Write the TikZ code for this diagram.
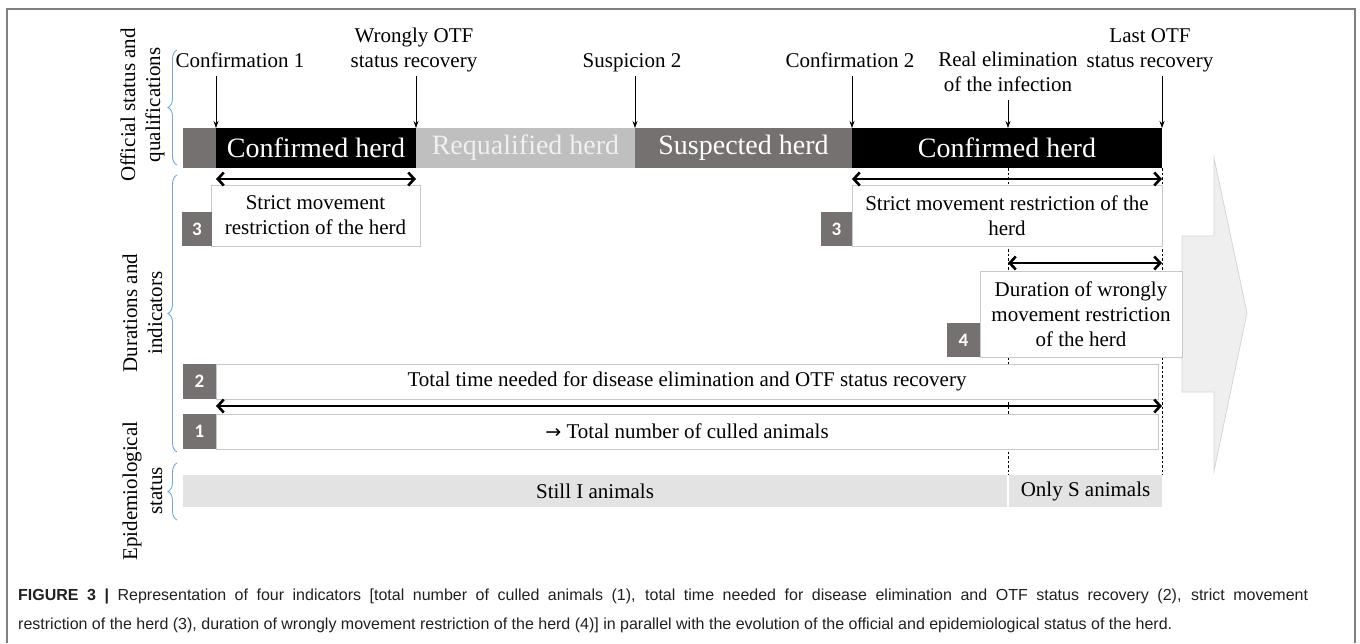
\documentclass[tikz,border=0pt]{standalone}
\usepackage{fontspec}
\setmainfont{Liberation Serif}
\newfontfamily\capfamily{Liberation Sans}
\newfontfamily\badgefamily{Carlito}
\newfontfamily\symfamily{DejaVu Sans}
\usetikzlibrary{arrows.meta,decorations.pathreplacing}
\definecolor{framegray}{HTML}{808080}
\definecolor{darkseg}{HTML}{767171}
\definecolor{lightseg}{HTML}{BFBFBF}
\definecolor{reqtext}{HTML}{F0F0F0}
\definecolor{boxgray}{HTML}{C8C8C8}
\definecolor{braceblue}{HTML}{6FA8DC}
\definecolor{epigray}{HTML}{E3E3E3}
\definecolor{arrowfill}{HTML}{EFEFEF}
\definecolor{arrowline}{HTML}{D6D6D6}
\definecolor{capcol}{HTML}{231F20}
\newcommand\lblfont{\fontsize{21}{25}\selectfont}
\newcommand\segfont{\fontsize{28}{30}\selectfont}
\newcommand\badgefont{\badgefamily\bfseries\fontsize{19}{20}\selectfont}
\newcommand\capfont{\capfamily\fontsize{16}{19}\selectfont}
\tikzset{
  seg/.style={rectangle, inner sep=0pt, outer sep=0pt, minimum height=40pt, font=\segfont, text=white},
  ibox/.style={rectangle, draw=boxgray, line width=1pt, fill=white, inner sep=0pt, outer sep=0pt, align=center, font=\lblfont},
  badge/.style={rectangle, fill=darkseg, inner sep=0pt, outer sep=0pt, font=\badgefont, text=white},
  evlbl/.style={align=center, font=\lblfont, anchor=south, inner sep=0pt, text depth=5pt},
  evarrow/.style={-{Stealth[length=7pt,width=5pt]}, line width=0.8pt},
  dbl/.style={line width=2.6pt, {Straight Barb[length=6pt,width=13pt]}-{Straight Barb[length=6pt,width=13pt]}},
  brc/.style={decorate, decoration={brace, amplitude=9pt}, draw=braceblue, line width=0.9pt},
  sidelbl/.style={rotate=90, align=center, font=\lblfont, inner sep=0pt},
  dashv/.style={dash pattern=on 2.5pt off 2pt, line width=0.8pt},
  epibar/.style={rectangle, fill=epigray, inner sep=0pt, outer sep=0pt, minimum height=32pt, font=\lblfont}
}
\begin{document}
\begin{tikzpicture}[x=1pt,y=-1pt]
\useasboundingbox (0,0) rectangle (1360,643);
% frame
\draw[framegray, line width=1.5pt] (7,643) -- (7,9) -- (1355,9) -- (1355,643);

% big arrow
\draw[fill=arrowfill, draw=arrowline, line width=0.8pt]
  (1182,236) -- (1214,236) -- (1214,158) -- (1247,313) -- (1214,471) -- (1214,392) -- (1182,392) -- cycle;

% status bar
\node[seg, fill=darkseg, minimum width=33pt] (s0) at (199.5,148) {};
\node[seg, fill=black, minimum width=200pt] (s1) at (316,148) {Confirmed herd};
\node[seg, fill=lightseg, minimum width=219pt, text=reqtext] (s2) at (525.5,148) {Requalified herd};
\node[seg, fill=darkseg, minimum width=217pt] (s3) at (743.5,148) {Suspected herd};
\node[seg, fill=black, minimum width=310pt] (s4) at (1007,148) {Confirmed herd};

% event labels
\node[evlbl] (e1) at (240,73) {Confirmation 1};
\node[evlbl] (e2) at (414,73) {Wrongly OTF\\status recovery};
\node[evlbl] (e3) at (632,73) {Suspicion 2};
\node[evlbl] (e4) at (850,73) {Confirmation 2};
\node[evlbl] (e5) at (1008,97) {Real elimination\\of the infection};
\node[evlbl] (e6) at (1150,73) {Last OTF\\status recovery};

\coordinate (t1) at (216,76);
\coordinate (t2) at (416,76);
\coordinate (t3) at (635,76);
\coordinate (t4) at (852,76);
\coordinate (t5) at (1008,100);
\coordinate (t6) at (1162,76);
\draw[evarrow] (t1) -- (s1.north west);
\draw[evarrow] (t2) -- (s1.north east);
\draw[evarrow] (t3) -- (s3.north west);
\draw[evarrow] (t4) -- (s4.north west);
\draw[evarrow] (t5) -- (t5 |- s4.north);
\draw[evarrow] (t6) -- (s4.north east);

% dashed guides
\coordinate (g1t) at (1008,168);
\coordinate (g1b) at (1008,475);
\coordinate (g2t) at (1162,168);
\coordinate (g2b) at (1162,475);
\draw[dashv] (g1t) -- (g1b);
\draw[dashv] (g2t) -- (g2b);

% indicator boxes
\node[ibox, minimum width=209pt, minimum height=61pt] (box3a) at (315.5,215.5) {Strict movement\\restriction of the herd};
\node[badge, minimum width=30pt, minimum height=34pt] (b3a) at (197,229) {3};
\node[ibox, minimum width=310pt, minimum height=61pt] (box3b) at (1007,215.5) {Strict movement restriction of the\\herd};
\node[badge, minimum width=31pt, minimum height=34pt] (b3b) at (836.5,229) {3};
\node[ibox, minimum width=202pt, minimum height=86pt] (box4) at (1081,314) {Duration of wrongly\\movement restriction\\of the herd};
\node[badge, minimum width=33pt, minimum height=34pt] (b4) at (963.5,340) {4};
\node[ibox, minimum width=942pt, minimum height=35pt] (box2) at (687,381.5) {Total time needed for disease elimination and OTF status recovery};
\node[badge, minimum width=33pt, minimum height=35pt] (b2) at (199.5,381.5) {2};
\node[ibox, minimum width=942pt, minimum height=35pt] (box1) at (687,431.5) {{\symfamily\fontsize{19}{20}\selectfont →}\ Total number of culled animals};
\node[badge, minimum width=33pt, minimum height=35pt] (b1) at (199.5,431.5) {1};

% double arrows
\coordinate (d3al) at (216,179); \coordinate (d3ar) at (416,179);
\coordinate (d3bl) at (852,179); \coordinate (d3br) at (1162,179);
\coordinate (d4l) at (1008,263); \coordinate (d4r) at (1162,263);
\coordinate (d12l) at (216,406); \coordinate (d12r) at (1162,406);
\draw[dbl] (d3al) -- (d3ar);
\draw[dbl] (d3bl) -- (d3br);
\draw[dbl] (d4l) -- (d4r);
\draw[dbl] (d12l) -- (d12r);

% epidemiological status
\node[epibar, minimum width=824pt] (still) at (595,491) {Still I animals};
\node[epibar, minimum width=153pt] (only) at (1085.5,491) {Only S animals};

% braces and side labels
\draw[brc] (177,165) -- (177,50);
\draw[brc] (177,452) -- (177,175);
\draw[brc] (177,520) -- (177,463);
\node[sidelbl] (lab1) at (142.5,105) {Official status and\\qualifications};
\node[sidelbl] (lab2) at (142.5,313) {Durations and\\indicators};
\node[sidelbl] (lab3) at (142.5,491) {Epidemiological\\status};

% caption
\node[anchor=base west, inner sep=0pt, font=\capfont, text=capcol] (cap1) at (18,600)
  {\makebox[1290pt][s]{\textbf{FIGURE 3 |} Representation of four indicators [total number of culled animals (1), total time needed for disease elimination and OTF status recovery (2), strict movement}};
\node[anchor=base west, inner sep=0pt, font=\capfont, text=capcol] (cap2) at (18,629)
  {restriction of the herd (3), duration of wrongly movement restriction of the herd (4)] in parallel with the evolution of the official and epidemiological status of the herd.};
\end{tikzpicture}
\end{document}
